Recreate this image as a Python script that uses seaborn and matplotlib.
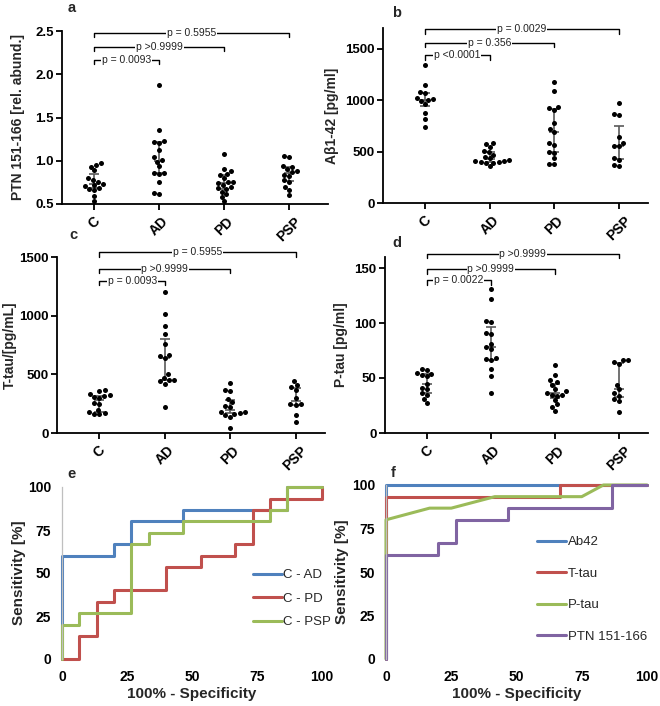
import numpy as np
import pandas as pd
import matplotlib
matplotlib.use("Agg")
import matplotlib.pyplot as plt
import seaborn as sns

groups = ["C", "AD", "PD", "PSP"]

# a: PTN 151-166 [rel. abund.]
ptn_c = [0.97, 0.95, 0.93, 0.89, 0.80, 0.78, 0.76, 0.73, 0.72, 0.71, 0.69, 0.67, 0.66, 0.59, 0.53]
ptn_ad = [1.88, 1.35, 1.23, 1.22, 1.21, 1.12, 1.04, 1.01, 0.99, 0.94, 0.86, 0.86, 0.85, 0.75, 0.63, 0.61]
ptn_pd = [1.08, 0.91, 0.88, 0.85, 0.84, 0.80, 0.76, 0.75, 0.74, 0.72, 0.70, 0.68, 0.67, 0.64, 0.61, 0.58, 0.53]
ptn_psp = [1.06, 1.04, 0.94, 0.93, 0.90, 0.88, 0.87, 0.84, 0.82, 0.78, 0.76, 0.70, 0.66, 0.60]

# b: Abeta1-42 [pg/ml]
ab_c = [1340, 1145, 1075, 1065, 1020, 1010, 1000, 990, 960, 870, 820, 740]
ab_ad = [580, 575, 545, 510, 495, 470, 445, 435, 415, 410, 405, 400, 395, 390, 385, 355]
ab_pd = [1180, 1090, 935, 920, 905, 780, 720, 690, 580, 560, 500, 490, 440, 380, 375]
ab_psp = [970, 865, 855, 640, 580, 555, 550, 440, 420, 365, 360]

# c: T-tau [pg/mL]
tt_c = [370, 360, 330, 320, 315, 310, 300, 255, 250, 200, 175, 170, 165, 160]
tt_ad = [1200, 1015, 910, 840, 760, 665, 660, 640, 500, 470, 455, 450, 440, 420, 220]
tt_pd = [425, 370, 355, 290, 260, 230, 220, 180, 175, 170, 165, 150, 140, 40]
tt_psp = [445, 410, 390, 370, 300, 250, 245, 240, 150, 95]

# d: P-tau [pg/ml]
pt_c = [58, 57, 55, 54, 53, 52, 45, 41, 40, 36, 35, 31, 27]
pt_ad = [131, 122, 102, 101, 91, 90, 81, 78, 76, 68, 67, 66, 58, 52, 36]
pt_pd = [62, 53, 48, 46, 44, 40, 38, 36, 35, 35, 34, 30, 26, 24, 20]
pt_psp = [66, 66, 65, 63, 44, 40, 36, 34, 31, 29, 19]

# p-value brackets: (target group index, height, text)
br_a = [(3, 2.48, "p = 0.5955"), (2, 2.32, "p >0.9999"), (1, 2.17, "p = 0.0093")]
br_b = [(3, 1688, "p = 0.0029"), (2, 1558, "p = 0.356"), (1, 1434, "p <0.0001")]
br_c = [(3, 1540, "p = 0.5955"), (2, 1397, "p >0.9999"), (1, 1297, "p = 0.0093")]
br_d = [(3, 163, "p >0.9999"), (2, 148.8, "p >0.9999"), (1, 139, "p = 0.0022")]

# e: ROC, control vs disease (step points)
e_labels = ["C - AD", "C - PD", "C - PSP"]
e_fpr = [[0, 0, 20, 26.7, 46.7, 86.7, 100],
         [0, 6.7, 13.3, 20, 40, 53.3, 66.7, 73.3, 80, 100],
         [0, 0, 6.7, 26.7, 33.3, 46.7, 80, 86.7, 100]]
e_tpr = [[0, 60, 66.7, 80, 86.7, 100, 100],
         [0, 13.3, 33.3, 40, 53.3, 60, 66.7, 86.7, 93.3, 100],
         [0, 20, 26.7, 66.7, 73.3, 80, 86.7, 100, 100]]

# f: ROC, biomarkers
f_labels = ["Ab42", "T-tau", "P-tau", "PTN 151-166"]
f_fpr = [[0, 0, 100],
         [0, 0, 66.7, 66.7, 100],
         [0, 0, 16.7, 25, 41.7, 75, 83.3, 100],
         [0, 0, 20, 20, 26.7, 26.7, 46.7, 46.7, 86.7, 86.7, 100]]
f_tpr = [[0, 100, 100],
         [0, 93.3, 93.3, 100, 100],
         [0, 80, 86.7, 86.7, 93.3, 93.3, 100, 100],
         [0, 60, 60, 66.7, 66.7, 80, 80, 86.7, 86.7, 100, 100]]

roc_colors = ["#4F81BD", "#C0504D", "#9BBB59", "#8064A2"]

sns.set_theme(style="ticks")
plt.rcParams["font.family"] = ["Liberation Sans", "DejaVu Sans"]

W, H = 660, 706
fig = plt.figure(figsize=(W / 100, H / 100), dpi=100)


def rect(x0, y0, x1, y1):
    # pixel box -> figure fraction
    return [x0 / W, 1 - y1 / H, (x1 - x0) / W, (y1 - y0) / H]


def dot_panel(box, vals, ylim, yticks, ylabel, xlim, brackets, label_x):
    ax = fig.add_axes(rect(*box))
    df = pd.DataFrame({"group": np.repeat(groups, [len(v) for v in vals]),
                       "value": np.concatenate(vals)})
    for i, v in enumerate(vals):
        q1, med, q3 = np.percentile(v, [25, 50, 75])
        ax.errorbar(i, med, yerr=[[med - q1], [q3 - med]], fmt="none", ecolor="#5a5a5a",
                    elinewidth=1.2, capsize=3.5, capthick=1.2, zorder=1)
        ax.plot(i, med, marker="_", ms=7, mew=1.2, color="#5a5a5a", zorder=1)
    sns.swarmplot(data=df, x="group", y="value", order=groups, color="black",
                  size=3.6, ax=ax, zorder=3)
    ax.set_xlim(*xlim)
    ax.set_ylim(*ylim)
    ax.set_yticks(yticks)
    ax.set_xlabel("")
    ax.set_ylabel(ylabel, fontsize=10, fontweight="bold")
    ax.yaxis.set_label_coords(label_x, 0.5)
    sns.despine(ax=ax)
    for s in ["left", "bottom"]:
        ax.spines[s].set_linewidth(1.3)
        ax.spines[s].set_color("black")
    ax.tick_params(direction="out", length=4, width=1.3, labelsize=9.5, colors="black")
    ax.tick_params(axis="y", pad=2)
    for t in ax.get_yticklabels():
        t.set_fontweight("bold")
    for t in ax.get_xticklabels():
        t.set_fontweight("bold")
        t.set_fontsize(10)
        t.set_rotation(45)
        t.set_ha("center")
    tick = 0.025 * (ylim[1] - ylim[0])
    for j, y, txt in brackets:
        ax.plot([0, 0, j, j], [y - tick, y, y, y - tick], color="black", lw=1,
                clip_on=False, zorder=4)
        ax.text(j / 2, y, txt, ha="center", va="center", fontsize=7.5, color="#222222",
                bbox=dict(fc="white", ec="none", pad=0.6), clip_on=False, zorder=5)
    return ax


dot_panel((62, 31, 328, 204), [ptn_c, ptn_ad, ptn_pd, ptn_psp], (0.5, 2.5),
          [0.5, 1.0, 1.5, 2.0, 2.5], "PTN 151-166 [rel. abund.]", (-0.5, 3.6), br_a, -0.14)
dot_panel((383, 28, 648, 203), [ab_c, ab_ad, ab_pd, ab_psp], (0, 1700),
          [0, 500, 1000, 1500], "A\u03b21-42 [pg/ml]", (-0.65, 3.45), br_b, -0.165)
dot_panel((57, 257, 325, 433), [tt_c, tt_ad, tt_pd, tt_psp], (0, 1500),
          [0, 500, 1000, 1500], "T-tau/[pg/mL]", (-0.65, 3.45), br_c, -0.15)
dot_panel((385, 257, 648, 433), [pt_c, pt_ad, pt_pd, pt_psp], (0, 160),
          [0, 50, 100, 150], "P-tau [pg/ml]", (-0.65, 3.45), br_d, -0.14)


def roc_panel(box, fprs, tprs, labels, steps, anchor, spacing):
    ax = fig.add_axes(rect(*box))
    for fx, ty, lab, c in zip(fprs, tprs, labels, roc_colors):
        sns.lineplot(x=fx, y=ty, ax=ax, color=c, lw=2.2, label=lab, estimator=None,
                     sort=False, drawstyle="steps-post" if steps else "default",
                     clip_on=False)
    ax.set_xlim(0, 100)
    ax.set_ylim(0, 100)
    ax.set_xticks([0, 25, 50, 75, 100])
    ax.set_yticks([0, 25, 50, 75, 100])
    ax.set_xlabel("100% - Specificity", fontsize=11, fontweight="bold")
    ax.set_ylabel("Sensitivity [%]", fontsize=11, fontweight="bold")
    ax.xaxis.set_label_coords(0.5, -0.16)
    ax.yaxis.set_label_coords(-0.14, 0.5)
    for s in ["top", "right", "bottom"]:
        ax.spines[s].set_visible(False)
    ax.spines["left"].set_color("#BFBFBF")
    ax.spines["left"].set_linewidth(0.9)
    ax.tick_params(length=0, labelsize=10, pad=8, colors="black")
    for t in ax.get_xticklabels() + ax.get_yticklabels():
        t.set_fontweight("bold")
    ax.legend(loc="center left", bbox_to_anchor=anchor, frameon=False, fontsize=9.5,
              handlelength=2.2, handletextpad=0.1, labelspacing=spacing,
              borderaxespad=0, borderpad=0)
    return ax


roc_panel((62, 487, 322, 659), e_fpr, e_tpr, e_labels, True, (0.735, 0.35), 0.85)
roc_panel((386, 485, 647, 659), f_fpr, f_tpr, f_labels, False, (0.58, 0.40), 1.45)

for txt, x, y in [("a", 72, 8), ("b", 397, 13), ("c", 73, 235),
                  ("d", 397, 243), ("e", 72, 474), ("f", 393, 473)]:
    fig.text(x / W, 1 - y / H, txt, fontsize=10.5, fontweight="bold", va="center", ha="center")

fig.savefig("out.png", dpi=100)
